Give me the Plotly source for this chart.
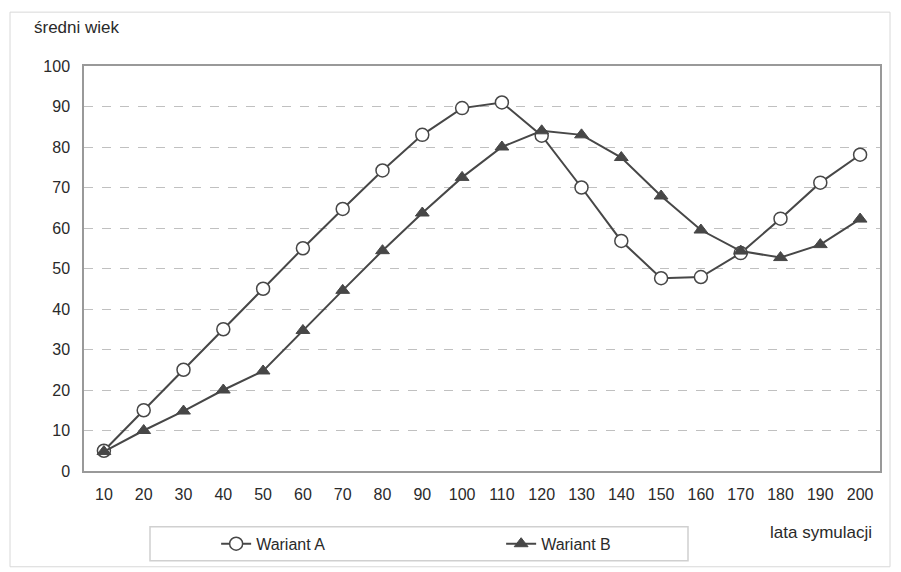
import plotly.graph_objects as go

years = [str(v) for v in range(10, 210, 10)]
wariant_a = [5, 15, 25, 35, 45, 55, 64.7, 74.2, 83, 89.6, 91, 82.8, 70, 56.8, 47.6, 47.9, 53.8, 62.3, 71.2, 78.1]
wariant_b = [4.8, 10, 14.8, 20, 24.7, 34.7, 44.6, 54.4, 63.7, 72.5, 80, 84, 83, 77.4, 67.9, 59.5, 54.3, 52.7, 55.9, 62.2]
y_ticks = list(range(0, 101, 10))

FONT = "Liberation Sans, Arial, sans-serif"
LINE = "#474747"
TXT = "#2a2a2a"

fig = go.Figure()
fig.add_trace(go.Scatter(
    x=years, y=wariant_a, name="Wariant A", mode="lines+markers",
    line=dict(color=LINE, width=2),
    marker=dict(symbol="circle", size=13, color="white", line=dict(color=LINE, width=1.5)),
))
fig.add_trace(go.Scatter(
    x=years, y=wariant_b, name="Wariant B", mode="lines+markers",
    line=dict(color=LINE, width=2),
    marker=dict(symbol="triangle-up", size=12, color=LINE, line=dict(color=LINE, width=1)),
))

fig.update_layout(
    width=901, height=572,
    margin=dict(l=84, r=21, t=66, b=100),
    paper_bgcolor="white", plot_bgcolor="white",
    font=dict(family=FONT, size=16, color=TXT),
    showlegend=True,
    legend=dict(
        orientation="h", x=0.166, y=-0.135, xanchor="left", yanchor="top",
        entrywidth=240, entrywidthmode="pixels",
        bgcolor="rgba(0,0,0,0)", borderwidth=0,
        font=dict(family=FONT, size=16, color=TXT),
        itemwidth=30,
    ),
    xaxis=dict(
        type="category", range=[-0.5, 19.5], showgrid=False, ticks="", showline=True, mirror=True,
        linecolor="#999999", linewidth=1.5, ticklabelstandoff=8,
        tickfont=dict(size=16),
    ),
    yaxis=dict(
        range=[0, 100], tickvals=y_ticks, showgrid=True, gridcolor="#c0c0c0",
        griddash="dash", gridwidth=1, zeroline=False, ticks="", showline=True,
        mirror=True, linecolor="#999999", linewidth=1.5, ticklabelstandoff=9,
        tickfont=dict(size=16),
    ),
    shapes=[
        dict(type="rect", xref="paper", yref="paper",
             x0=(10 - 84) / 796, x1=(890 - 84) / 796,
             y0=(472 - 568) / 406, y1=(472 - 12) / 406,
             line=dict(color="#d8d8d8", width=1)),
        dict(type="rect", xref="paper", yref="paper",
             x0=(150 - 84) / 796, x1=(688 - 84) / 796,
             y0=(472 - 562) / 406, y1=(472 - 528) / 406,
             line=dict(color="#d0d0d0", width=1.5)),
    ],
    annotations=[
        dict(text="średni wiek", xref="paper", yref="paper",
             x=(32 - 84) / 796, y=(472 - 27) / 406, xanchor="left", yanchor="middle",
             showarrow=False, font=dict(size=17, color=TXT)),
        dict(text="lata symulacji", xref="paper", yref="paper",
             x=(874 - 84) / 796, y=(472 - 534) / 406, xanchor="right", yanchor="middle",
             showarrow=False, font=dict(size=17, color=TXT)),
    ],
)

fig.write_html("out.html")
